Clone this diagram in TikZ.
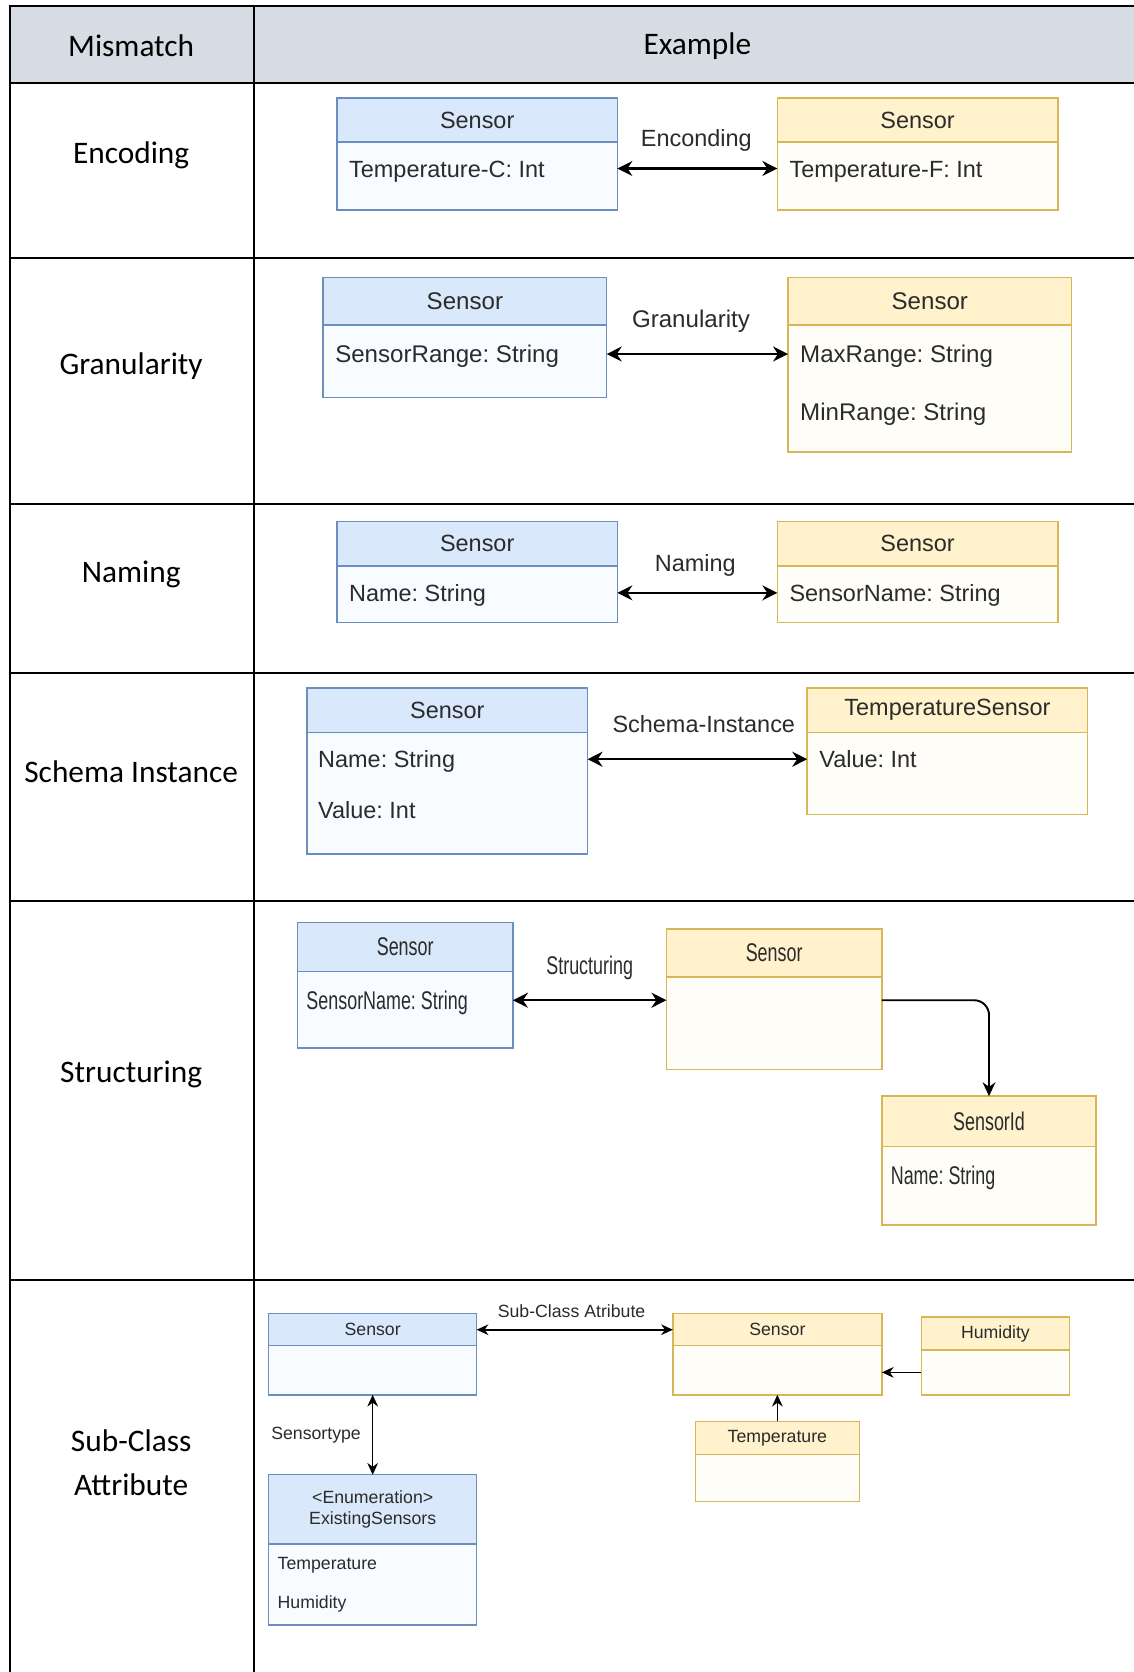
\documentclass[tikz,border=0pt]{standalone}
\usepackage{fontspec}
\setmainfont{Carlito}
\setsansfont{Liberation Sans}
\newfontfamily\narrowsf[FakeStretch=0.7]{Liberation Sans}
\usetikzlibrary{arrows.meta,calc}
\frenchspacing

\definecolor{tblhead}{HTML}{D6DCE4}
\definecolor{bfill}{HTML}{DAE8FC}
\definecolor{bline}{HTML}{6C8EBF}
\definecolor{bbodyfill}{HTML}{F8FBFF}
\definecolor{yfill}{HTML}{FFF2CC}
\definecolor{yline}{HTML}{D6B656}
\definecolor{ybodyfill}{HTML}{FFFDF7}
\definecolor{umltext}{HTML}{2B2B2B}

\tikzset{
  gridline/.style={line width=1pt, black},
  rowlabel/.style={font=\fontsize{14.7}{20.5}\selectfont, align=center, inner sep=0pt},
  bhead/.style={draw=bline, fill=bfill, line width=0.7pt, inner sep=0pt, outer sep=0pt, text=umltext, align=center},
  bbody/.style={draw=bline, fill=bbodyfill, line width=0.7pt, inner sep=0pt, outer sep=0pt},
  yhead/.style={draw=yline, fill=yfill, line width=0.7pt, inner sep=0pt, outer sep=0pt, text=umltext, align=center},
  ybody/.style={draw=yline, fill=ybodyfill, line width=0.7pt, inner sep=0pt, outer sep=0pt},
  attr/.style={anchor=base west, inner sep=0pt, text=umltext},
  rel/.style={inner sep=0pt, text=umltext},
  both/.style={line width=1.1pt, {Stealth[length=7pt,width=7pt]}-{Stealth[length=7pt,width=7pt]}},
  towards/.style={line width=0.9pt, -{Stealth[length=6.5pt,width=6pt]}},
  thinboth/.style={line width=0.75pt, {Stealth[length=5.5pt,width=5pt]}-{Stealth[length=5.5pt,width=5pt]}},
  thinto/.style={line width=0.75pt, -{Stealth[length=5.5pt,width=5pt]}},
}

% class box: #1 name, #2 colour scheme (b/y), #3 x, #4 y, #5 width,
% #6 header height, #7 body height, #8 title
\newcommand{\umlbox}[8]{%
  \node[#2head, minimum width=#5*0.5pt, minimum height=#6*0.5pt, anchor=north west] (#1) at (#3,#4) {#8};
  \node[#2body, minimum width=#5*0.5pt, minimum height=#7*0.5pt, anchor=north west] (#1b) at (#1.south west) {};
}

\begin{document}
\begin{tikzpicture}[x=0.5pt, y=-0.5pt]
  \useasboundingbox (0,0) rectangle (1063,1568);
  \fill[white] (0,0) rectangle (1063,1568);

  % table
  \fill[tblhead] (9,6) rectangle (1063,78);
  \draw[gridline] (1063,6) -- (9,6) -- (9,1568);
  \draw[gridline] (238,6) -- (238,1568);
  \foreach \yy in {78,242,473,631,845,1200}
    \draw[gridline] (9,\yy) -- (1063,\yy);

  \node[rowlabel] (hmis) at (123,43) {Mismatch};
  \node[rowlabel] (hex) at (654,43) {Example};
  \node[rowlabel] (renc) at (123,146) {Encoding};
  \node[rowlabel] (rgra) at (123,343) {Granularity};
  \node[rowlabel] (rnam) at (123,539) {Naming};
  \node[rowlabel] (rsch) at (123,724) {Schema Instance};
  \node[rowlabel] (rstr) at (123,1008) {Structuring};
  \node[rowlabel] (rsub) at (123,1372) {Sub-Class\\Attribute};

  % Encoding
  \begin{scope}[every node/.append style={font=\sffamily\fontsize{11}{13}\selectfont}]
    \umlbox{b1}{b}{316}{92}{263}{41}{64}{Sensor}
    \umlbox{y1}{y}{729}{92}{263}{41}{64}{Sensor}
    \node[attr] (b1t) at (327,166) {Temperature-C: Int};
    \node[attr] (y1t) at (740,166) {Temperature-F: Int};
    \node[rel] (l1) at (653,132) {Enconding};
    \coordinate (a1) at ($(b1t.base)+(0,-8)$);
    \draw[both] (b1b.east |- a1) -- (y1b.west |- a1);
  \end{scope}

  % Granularity
  \begin{scope}[every node/.append style={font=\sffamily\fontsize{11.3}{13}\selectfont}]
    \umlbox{b2}{b}{303}{260}{266}{45}{68}{Sensor}
    \umlbox{y2}{y}{739}{260}{266}{45}{119}{Sensor}
    \node[attr] (b2t) at (314,340) {SensorRange: String};
    \node[attr] (y2t) at (750,340) {MaxRange: String};
    \node[attr] (y2u) at (750,394) {MinRange: String};
    \node[rel] (l2) at (648,301) {Granularity};
    \coordinate (a2) at ($(b2t.base)+(0,-8)$);
    \draw[both] (b2b.east |- a2) -- (y2b.west |- a2);
  \end{scope}

  % Naming
  \begin{scope}[every node/.append style={font=\sffamily\fontsize{11}{13}\selectfont}]
    \umlbox{b3}{b}{316}{489}{263}{42}{53}{Sensor}
    \umlbox{y3}{y}{729}{489}{263}{42}{53}{Sensor}
    \node[attr] (b3t) at (327,564) {Name: String};
    \node[attr] (y3t) at (740,564) {SensorName: String};
    \node[rel] (l3) at (652,530) {Naming};
    \coordinate (a3) at ($(b3t.base)+(0,-8)$);
    \draw[both] (b3b.east |- a3) -- (y3b.west |- a3);
  \end{scope}

  % Schema Instance
  \begin{scope}[every node/.append style={font=\sffamily\fontsize{11}{13}\selectfont}]
    \umlbox{b4}{b}{288}{645}{263}{42}{114}{Sensor}
    \umlbox{y4}{y}{757}{645}{263}{42}{77}{TemperatureSensor}
    \node[attr] (b4t) at (298,720) {Name: String};
    \node[attr] (b4u) at (298,768) {Value: Int};
    \node[attr] (y4t) at (768,720) {Value: Int};
    \node[rel] (l4) at (660,679) {Schema-Instance};
    \coordinate (a4) at ($(b4t.base)+(0,-8)$);
    \draw[both] (b4b.east |- a4) -- (y4b.west |- a4);
  \end{scope}

  % Structuring
  \begin{scope}[every node/.append style={font=\narrowsf\fontsize{12}{14}\selectfont}]
    \umlbox{b5}{b}{279}{865}{202}{46}{72}{Sensor}
    \umlbox{y5}{y}{625}{871}{202}{45}{87}{Sensor}
    \umlbox{s5}{y}{827}{1028}{201}{47}{74}{SensorId}
    \node[attr] (b5t) at (287,947) {SensorName: String};
    \node[attr] (s5t) at (835,1111) {Name: String};
    \node[rel] (l5) at (553,908) {Structuring};
    \coordinate (a5) at ($(b5t.base)+(0,-9)$);
    \draw[both] (b5b.east |- a5) -- (y5b.west |- a5);
    \draw[towards, rounded corners=7pt] (y5b.east |- a5) -| (s5.north);
  \end{scope}

  % Sub-Class Attribute
  \begin{scope}[every node/.append style={font=\sffamily\fontsize{8.3}{10}\selectfont}]
    \umlbox{b6}{b}{252}{1232}{195}{30}{46}{Sensor}
    \umlbox{y6}{y}{631}{1232}{196}{30}{46}{Sensor}
    \umlbox{h6}{y}{864}{1235}{139}{31}{42}{Humidity}
    \umlbox{t6}{y}{652}{1333}{154}{31}{44}{Temperature}
    \umlbox{e6}{b}{252}{1383}{195}{65}{76}{<Enumeration>\\ExistingSensors}
    \node[attr] (e6t) at (260,1472) {Temperature};
    \node[attr] (e6u) at (260,1508) {Humidity};
    \node[rel] (l6) at (536,1230) {Sub-Class Atribute};
    \node[rel, anchor=west] (l7) at (254,1346) {Sensortype};
    \draw[thinboth] (b6.east) -- (y6.west);
    \draw[thinto] (h6b.west) -- (y6b.east |- h6b.west);
    \draw[thinto] (t6.north) -- (y6b.south);
    \draw[thinboth] (b6b.south) -- (e6.north);
  \end{scope}
\end{tikzpicture}
\end{document}
